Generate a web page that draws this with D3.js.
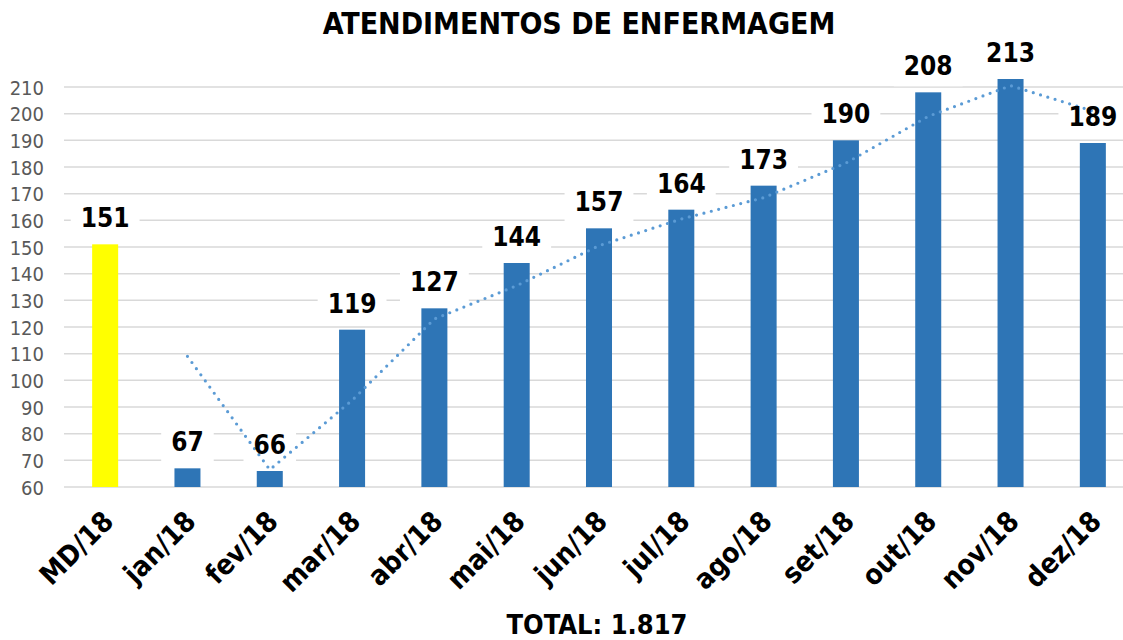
<!DOCTYPE html>
<html>
<head>
<meta charset="utf-8">
<script src="https://cdn.jsdelivr.net/npm/d3@7"></script>
<style>
  html, body { margin: 0; padding: 0; background: #fff; }
  svg { display: block; }
  .bold { font-family: "DejaVu Sans Condensed", "DejaVu Sans", sans-serif; font-stretch: condensed; font-weight: bold; }
  .tick text { font-family: "DejaVu Sans Condensed", "DejaVu Sans", sans-serif; font-stretch: condensed; }
</style>
</head>
<body>
<svg id="chart" width="1123" height="640"></svg>
<script>
const title = "ATENDIMENTOS DE ENFERMAGEM";
const totalLabel = "TOTAL: 1.817";
const categories = ["MD/18","jan/18","fev/18","mar/18","abr/18","mai/18","jun/18","jul/18","ago/18","set/18","out/18","nov/18","dez/18"];
const values = [151, 67, 66, 119, 127, 144, 157, 164, 173, 190, 208, 213, 189];
// 2-period moving average trendline
const trendCategories = ["jan/18","fev/18","mar/18","abr/18","mai/18","jun/18","jul/18","ago/18","set/18","out/18","nov/18","dez/18"];
const trendValues = [109, 66.5, 92.5, 123, 135.5, 150.5, 160.5, 168.5, 181.5, 199, 210.5, 201];
const yTicks = [60, 70, 80, 90, 100, 110, 120, 130, 140, 150, 160, 170, 180, 190, 200, 210];

const svg = d3.select("#chart");
const plot = { left: 64, right: 1134, top: 87, bottom: 487 };

const x = d3.scaleBand().domain(categories).range([plot.left, plot.right])
  .paddingInner(0.684).paddingOuter(0.342);
const y = d3.scaleLinear().domain([60, 210]).range([plot.bottom, plot.top]);

// gridlines
svg.append("g").selectAll("line").data(yTicks).join("line")
  .attr("x1", plot.left).attr("x2", plot.right)
  .attr("y1", d => y(d)).attr("y2", d => y(d))
  .attr("stroke", "#d9d9d9").attr("stroke-width", 1.5);

// y axis labels
const yAxis = d3.axisLeft(y).tickValues(yTicks).tickSize(0).tickPadding(0);
const gy = svg.append("g").attr("transform", `translate(${plot.left - 20},0)`).call(yAxis);
gy.select(".domain").remove();
gy.selectAll("text").attr("font-size", 20).attr("fill", "#595959").attr("dy", "0.36em");

// bars
svg.append("g").selectAll("rect").data(values).join("rect")
  .attr("x", (d, i) => x(categories[i]))
  .attr("width", x.bandwidth())
  .attr("y", d => y(d))
  .attr("height", d => y(60) - y(d))
  .attr("fill", (d, i) => i === 0 ? "#ffff00" : "#2e75b6");

// x axis labels
const xAxis = d3.axisBottom(x).tickSize(0).tickPadding(0);
const gx = svg.append("g").attr("transform", `translate(0,${plot.bottom})`).call(xAxis);
gx.select(".domain").remove();
gx.selectAll("text")
  .attr("class", "bold")
  .attr("font-size", 28)
  .attr("fill", "#000")
  .attr("text-anchor", "end")
  .attr("dy", 0)
  .attr("transform", "translate(10,36) rotate(-45)");

// value labels
const labelFont = 26;
const labels = svg.append("g");
const boxes = labels.append("g");
const lineLayer = labels.append("g");
const texts = labels.append("g");

texts.selectAll("text").data(values).join("text")
  .attr("class", "bold")
  .attr("font-size", labelFont)
  .attr("text-anchor", "middle")
  .attr("x", (d, i) => x(categories[i]) + x.bandwidth() / 2)
  .attr("y", d => y(d) - 17)
  .attr("fill", "#000")
  .text(d => d);

texts.selectAll("text").each(function(d, i) {
  const bb = this.getBBox();
  boxes.append("rect")
    .attr("x", bb.x - 10).attr("width", bb.width + 20)
    .attr("y", y(d) - 17 - 24).attr("height", 35)
    .attr("fill", "#fff");
});

// trendline
const line = d3.line()
  .x((d, i) => x(trendCategories[i]) + x.bandwidth() / 2)
  .y(d => y(d));
lineLayer.append("path")
  .datum(trendValues)
  .attr("d", line)
  .attr("fill", "none")
  .attr("stroke", "#5b9bd5")
  .attr("stroke-width", 3.2)
  .attr("stroke-linecap", "round")
  .attr("stroke-dasharray", "0,7.6");

// title
svg.append("text").attr("class", "bold")
  .attr("x", 579).attr("y", 34)
  .attr("text-anchor", "middle").attr("font-size", 30).attr("fill", "#000")
  .text(title);

// total
svg.append("text").attr("class", "bold")
  .attr("x", 597).attr("y", 634)
  .attr("text-anchor", "middle").attr("font-size", 27).attr("fill", "#000")
  .text(totalLabel);
</script>
</body>
</html>
